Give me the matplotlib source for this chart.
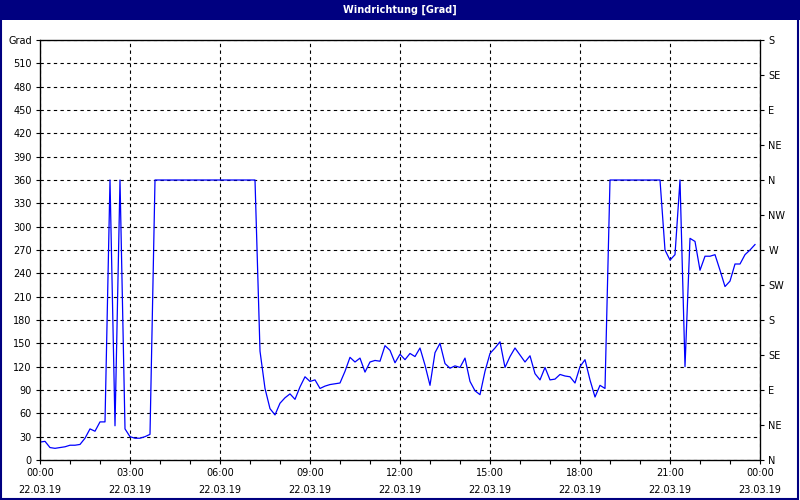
import numpy as np
import pandas as pd
import matplotlib
matplotlib.use('Agg')
import matplotlib.pyplot as plt
import matplotlib.dates as mdates
from matplotlib.patches import Rectangle

# Windrichtung, 10-Minuten-Werte vom 22.03.19
richtung = [
    23, 24, 16, 15, 16, 17, 19, 19, 20, 28, 40, 37, 49, 49, 360, 44, 360, 40,
    30, 28, 28, 30, 33, 360,
    360, 360, 360, 360, 360, 360, 360, 360, 360, 360,
    360, 360, 360, 360, 360, 360, 360, 360, 360, 360,
    140, 92, 66, 58, 73, 80, 85, 78, 94, 107, 101, 103, 92, 95, 97, 98, 99,
    114, 132, 126, 131, 113, 126, 128, 127, 147, 141, 125, 136, 129, 137, 133,
    144, 122, 96, 138, 150, 124, 118, 121, 119, 131, 101, 89, 84, 114, 137,
    144, 152, 119, 133, 144, 135, 126, 134, 111, 103, 119, 103, 104, 110, 108,
    107, 99, 120, 129, 103, 81, 96, 92, 360,
    360, 360, 360, 360, 360, 360, 360, 360, 360, 360,
    270, 257, 264, 360, 120, 285, 281, 244, 262, 262, 264, 244, 223, 230, 252,
    252, 264, 270, 277,
]
zeit = pd.date_range('2019-03-22 00:00', periods=len(richtung), freq='10min')

grad_ticks = list(range(0, 541, 30))
grad_labels = [str(g) for g in grad_ticks[:-1]] + ['Grad']
kompass_ticks = list(range(0, 541, 45))
kompass_labels = ['N', 'NE', 'E', 'SE', 'S', 'SW', 'W', 'NW',
                  'N', 'NE', 'E', 'SE', 'S']

navy = '#000080'
plt.rcParams['font.family'] = ['DejaVu Sans']
plt.rcParams['font.size'] = 7

fig = plt.figure(figsize=(8, 5), dpi=100, facecolor='white')

# Titelleiste und Rahmen
fig.patches.append(Rectangle((0, 0.96), 1, 0.04, transform=fig.transFigure,
                             facecolor=navy, edgecolor='none', zorder=0))
fig.patches.append(Rectangle((0.001, 0.002), 0.997, 0.996, transform=fig.transFigure,
                             facecolor='none', edgecolor=navy, lw=1.5, zorder=0))
fig.text(0.5, 0.98, 'Windrichtung [Grad]', color='white', ha='center',
         va='center', fontsize=7, fontweight='bold')

ax = fig.add_axes([0.05, 0.08, 0.90, 0.84])
ax.plot(zeit, richtung, color='#0000FF', lw=0.9)

start = pd.Timestamp('2019-03-22 00:00')
ende = pd.Timestamp('2019-03-23 00:00')
ax.set_xlim(start, ende)
ax.set_ylim(0, 540)

ax.set_yticks(grad_ticks)
ax.set_yticklabels(grad_labels)

xt = pd.date_range(start, ende, freq='3h')
ax.set_xticks(xt)
ax.set_xticklabels([t.strftime('%H:%M') + '\n' + t.strftime('%d.%m.%y') for t in xt],
                   linespacing=1.8)
ax.xaxis.set_minor_locator(mdates.HourLocator())

ax.grid(True, which='major', color='black', linestyle=(0, (3, 3)), lw=0.8)
ax.tick_params(axis='both', which='major', length=3, width=0.8, color='black', pad=3)
ax.tick_params(axis='x', which='minor', length=3, width=0.8)
for s in ax.spines.values():
    s.set_linewidth(0.9)

ax2 = ax.twinx()
ax2.set_ylim(0, 540)
ax2.set_yticks(kompass_ticks)
ax2.set_yticklabels(kompass_labels)
ax2.tick_params(axis='y', length=3, width=0.8, pad=3)

plt.savefig('out.png', dpi=100, facecolor='white')
